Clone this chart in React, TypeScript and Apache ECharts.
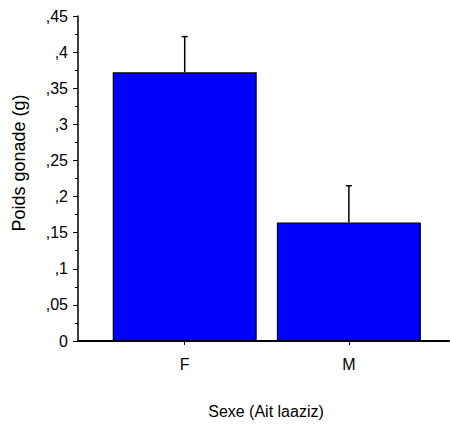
import React, { useEffect, useRef } from "react";
import * as echarts from "echarts";

const categories = ["F", "M"];
const means = [0.372, 0.164];
const errors = [0.0495, 0.051];
const yTickLabels = ["0", ",05", ",1", ",15", ",2", ",25", ",3", ",35", ",4", ",45"];
const xTitle = "Sexe (Ait laaziz)";
const yTitle = "Poids gonade (g)";

const FONT = "'Liberation Sans', Arial, sans-serif";

export default function App() {
  const ref = useRef<HTMLDivElement>(null);
  useEffect(() => {
    if (!ref.current) return;
    const chart = echarts.init(ref.current, undefined, { renderer: "svg" });
    const positions = categories.map((_, i) => i);
    chart.setOption({
      animation: false,
      backgroundColor: "#ffffff",
      grid: { left: 78, top: 16, width: 371, height: 325 },
      xAxis: {
        type: "value",
        min: -0.65,
        max: 1.61,
        splitLine: { show: false },
        axisLine: { show: true, onZero: false, lineStyle: { color: "#000", width: 2 } },
        axisTick: { show: true, customValues: positions, length: 4, lineStyle: { color: "#000" } },
        axisLabel: {
          customValues: positions,
          formatter: (v: number) => categories[Math.round(v)] ?? "",
          color: "#000",
          fontSize: 16,
          fontFamily: FONT,
          margin: 15,
        },
      },
      yAxis: {
        type: "value",
        min: 0,
        max: 0.45,
        interval: 0.05,
        splitLine: { show: false },
        axisLine: { show: true, onZero: false, lineStyle: { color: "#000", width: 1.5 } },
        axisTick: { show: true, length: 5, lineStyle: { color: "#000" } },
        minorTick: { show: true, splitNumber: 2, length: 3, lineStyle: { color: "#000" } },
        axisLabel: {
          formatter: (v: number) => yTickLabels[Math.round(v / 0.05)] ?? "",
          color: "#000",
          fontSize: 16,
          fontFamily: FONT,
          margin: 10,
        },
      },
      series: [
        {
          type: "bar",
          data: positions.map((p, i) => [p, means[i]]),
          barWidth: 144,
          itemStyle: { color: "#0000FF", borderColor: "#000", borderWidth: 1.2 },
        },
        {
          type: "custom",
          data: positions.map((p, i) => [p, means[i], means[i] + errors[i]]),
          renderItem: (params: any, api: any) => {
            const x = api.value(0);
            const base = api.coord([x, api.value(1)]);
            const top = api.coord([x, api.value(2)]);
            return {
              type: "group",
              children: [
                {
                  type: "line",
                  shape: { x1: base[0], y1: base[1], x2: top[0], y2: top[1] },
                  style: { stroke: "#000", lineWidth: 1.5 },
                },
                {
                  type: "line",
                  shape: { x1: top[0] - 3, y1: top[1], x2: top[0] + 3, y2: top[1] },
                  style: { stroke: "#000", lineWidth: 1.5 },
                },
              ],
            };
          },
          z: 5,
        },
      ],
      graphic: [
        {
          type: "text",
          x: 266,
          y: 411,
          style: {
            text: xTitle,
            fill: "#000",
            font: `16px ${FONT}`,
            align: "center",
            verticalAlign: "middle",
          },
        },
        {
          type: "text",
          x: 19,
          y: 163,
          rotation: Math.PI / 2,
          style: {
            text: yTitle,
            fill: "#000",
            font: `18px ${FONT}`,
            align: "center",
            verticalAlign: "middle",
          },
        },
      ],
    });
    return () => chart.dispose();
  }, []);
  return <div ref={ref} style={{ width: 450, height: 426, position: "absolute", left: 0, top: 0 }} />;
}
